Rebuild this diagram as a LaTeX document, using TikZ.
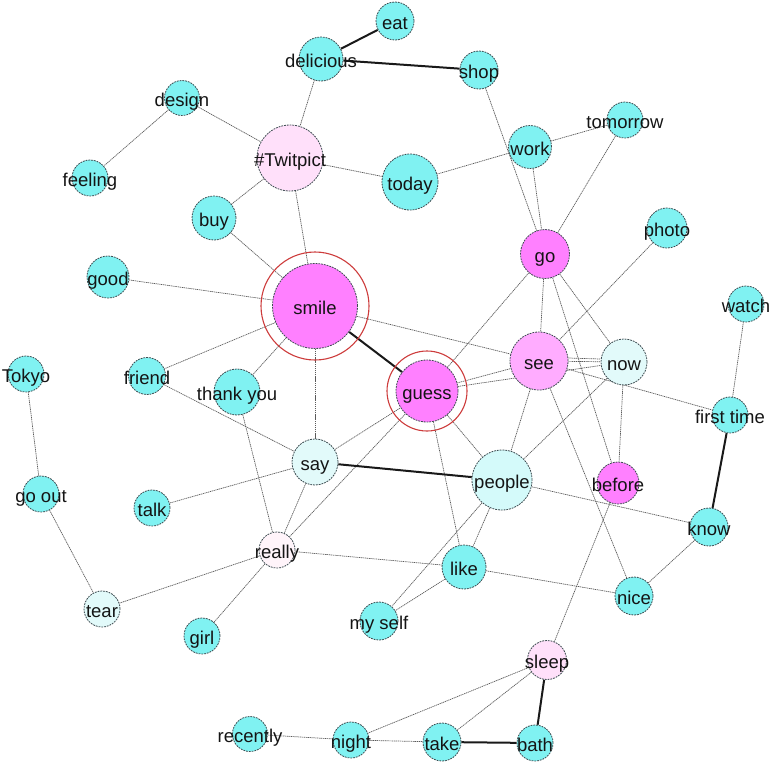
\documentclass[tikz,border=0pt]{standalone}
\usepackage{fontspec}
\setmainfont{Liberation Sans}
\pgfdeclarelayer{bg}
\pgfsetlayers{bg,main}
\definecolor{cy}{RGB}{128,242,242}
\definecolor{mg}{RGB}{255,128,255}
\definecolor{pkb}{RGB}{255,172,255}
\definecolor{pkc}{RGB}{255,224,250}
\definecolor{pkd}{RGB}{255,244,250}
\definecolor{lc}{RGB}{226,250,250}
\definecolor{lcb}{RGB}{212,250,250}
\definecolor{ndline}{RGB}{60,75,80}
\definecolor{edgec}{RGB}{90,90,90}
\definecolor{txt}{RGB}{20,20,20}
\definecolor{ringred}{RGB}{205,60,60}
\newcommand\wnode[6]{\node[nd,fill=#5,minimum size=#4pt] (#1) at (#2,#3) {\makebox[0pt]{\raisebox{-8.5pt}[0pt][0pt]{#6}}};}
\begin{document}
\begin{tikzpicture}[x=1pt,y=-1pt,
  nd/.style={circle,draw=ndline,line width=0.8pt,dash pattern=on 1.8pt off 1pt,inner sep=0pt,text=txt,font=\fontsize{18.5}{20}\selectfont},
  e/.style={draw=edgec,line width=0.7pt,dash pattern=on 1.2pt off 0.7pt},
  te/.style={draw=black!90,line width=2pt},
  ring/.style={draw=ringred,line width=1.1pt}]
\useasboundingbox (0,0) rectangle (770,761);
\wnode{eat}{395}{21}{38}{cy}{eat}
\wnode{delicious}{321}{59}{44}{cy}{delicious}
\wnode{shop}{479}{70}{38}{cy}{shop}
\wnode{design}{182}{98}{35}{cy}{design}
\wnode{twit}{290}{158}{66}{pkc}{\#Twitpict}
\wnode{feeling}{90}{178}{36}{cy}{feeling}
\wnode{buy}{214}{218}{44}{cy}{buy}
\wnode{good}{108}{277}{42}{cy}{good}
\wnode{smile}{315}{306}{85}{mg}{smile}
\wnode{tomorrow}{625}{120}{36}{cy}{tomorrow}
\wnode{work}{530}{147}{43}{cy}{work}
\wnode{today}{410}{182}{56}{cy}{today}
\wnode{photo}{667}{228}{40}{cy}{photo}
\wnode{go}{545}{254}{49}{mg}{go}
\wnode{watch}{746}{304}{36}{cy}{watch}
\wnode{see}{539}{361}{58}{pkb}{see}
\wnode{now}{624}{362}{46}{lc}{now}
\wnode{guess}{427}{391}{62}{mg}{guess}
\wnode{tokyo}{26}{374}{36}{cy}{Tokyo}
\wnode{friend}{147}{376}{37}{cy}{friend}
\wnode{thank}{237}{392}{46}{cy}{thank you}
\wnode{say}{315}{462}{46}{lc}{say}
\wnode{first}{730}{415}{36}{cy}{first time}
\wnode{people}{502}{480}{60}{lcb}{people}
\wnode{before}{618}{483}{42}{mg}{before}
\wnode{know}{709}{527}{38}{cy}{know}
\wnode{goout}{41}{494}{36}{cy}{go out}
\wnode{talk}{152}{508}{36}{cy}{talk}
\wnode{really}{277}{550}{36}{pkd}{really}
\wnode{like}{464}{567}{44}{cy}{like}
\wnode{nice}{634}{596}{38}{cy}{nice}
\wnode{tear}{102}{609}{36}{lc}{tear}
\wnode{myself}{379}{621}{38}{cy}{my self}
\wnode{girl}{202}{636}{36}{cy}{girl}
\wnode{sleep}{547}{660}{39}{pkc}{sleep}
\wnode{recently}{250}{734}{35}{cy}{recently}
\wnode{night}{351}{740}{36}{cy}{night}
\wnode{take}{442}{742}{38}{cy}{take}
\wnode{bath}{535}{743}{36}{cy}{bath}
\draw[ring] (smile.center) circle[radius=54pt];
\draw[ring] (guess.center) circle[radius=40pt];
\begin{pgfonlayer}{bg}
\foreach \a/\b in {delicious/twit,design/twit,design/feeling,twit/today,twit/buy,twit/smile,buy/smile,good/smile,
  shop/go,work/go,work/today,work/tomorrow,tomorrow/go,photo/see,go/guess,go/see,go/before,go/now,
  see/nice,now/before,now/people,see/people,see/first,smile/see,guess/see,guess/now,see/now,
  smile/friend,smile/thank,smile/say,friend/say,thank/really,talk/say,say/really,say/guess,really/guess,
  guess/like,guess/people,people/know,people/like,people/myself,like/myself,like/really,like/nice,nice/know,
  before/sleep,sleep/night,sleep/take,night/take,recently/night,first/watch,tokyo/goout,goout/tear,tear/really,really/girl}
  {\draw[e] (\a) -- (\b);}
\draw[e] ([yshift=3pt]see.east) -- ([yshift=3pt]now.west);
\foreach \a/\b in {eat/delicious,delicious/shop,smile/guess,say/people,first/know,sleep/bath,take/bath}
  {\draw[te] (\a) -- (\b);}
\end{pgfonlayer}
\end{tikzpicture}
\end{document}
